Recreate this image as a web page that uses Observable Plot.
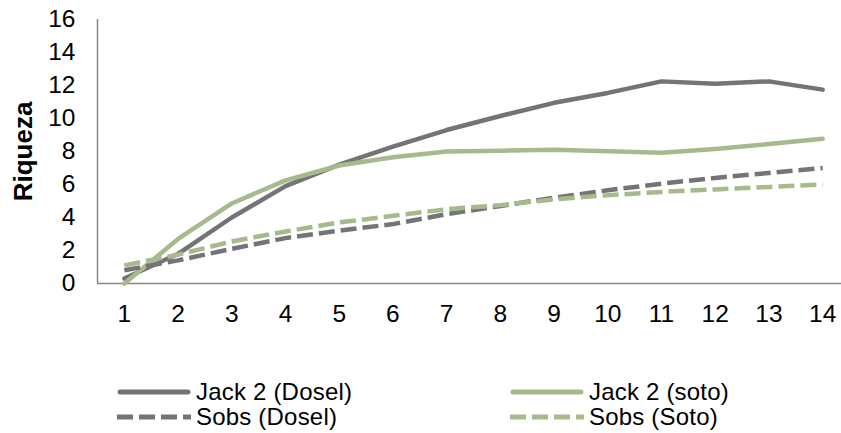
<!DOCTYPE html>
<html>
<head>
<meta charset="utf-8">
<script src="https://cdn.jsdelivr.net/npm/d3@7"></script>
<script src="https://cdn.jsdelivr.net/npm/@observablehq/plot@0.6"></script>
<style>
  html, body { margin: 0; padding: 0; background: #fff; }
  #wrap { position: relative; width: 841px; height: 433px; overflow: hidden; font-family: "Liberation Sans", Arial, sans-serif; }
  .leg { position: absolute; display: flex; align-items: center; font-size: 24px; letter-spacing: 0.2px; color: #000; white-space: nowrap; line-height: 1; }
  .leg svg { margin-right: 5px; }
</style>
</head>
<body>
<div id="wrap"></div>
<script>
// Sampling units
const muestras = [1, 2, 3, 4, 5, 6, 7, 8, 9, 10, 11, 12, 13, 14];

// Richness estimates per series
const jack2Dosel = [0.3, 1.8, 4.0, 5.9, 7.2, 8.3, 9.3, 10.15, 10.95, 11.55, 12.25, 12.1, 12.25, 11.75];
const jack2Soto  = [0, 2.7, 4.85, 6.25, 7.15, 7.65, 8.0, 8.05, 8.1, 8.02, 7.92, 8.15, 8.45, 8.77];
const sobsDosel  = [0.8, 1.4, 2.1, 2.75, 3.2, 3.6, 4.2, 4.7, 5.2, 5.65, 6.05, 6.4, 6.7, 7.0];
const sobsSoto   = [1.1, 1.75, 2.55, 3.15, 3.7, 4.1, 4.5, 4.75, 5.1, 5.35, 5.55, 5.7, 5.85, 6.0];

// Axis ticks
const yTicks = [0, 2, 4, 6, 8, 10, 12, 14, 16];
const xTicks = muestras;

const gris = "#737378";
const verde = "#a6ba8b";

const series = [
  {name: "Jack 2 (Dosel)", values: jack2Dosel, color: gris, dash: null},
  {name: "Jack 2 (soto)", values: jack2Soto, color: verde, dash: null},
  {name: "Sobs (Dosel)", values: sobsDosel, color: gris, dash: "16,6"},
  {name: "Sobs (Soto)", values: sobsSoto, color: verde, dash: "16,6"}
];

const rows = s => muestras.map((m, i) => ({x: m, y: s.values[i], serie: s.name}));

const chart = Plot.plot({
  width: 841,
  height: 340,
  marginLeft: 97,
  marginRight: 0,
  marginTop: 19,
  marginBottom: 57,
  style: {fontFamily: '"Liberation Sans", Arial, sans-serif', fontSize: "24px", color: "#000", background: "#fff"},
  x: {type: "linear", domain: [0.5, 14.5], range: [97, 849], ticks: xTicks, tickSize: 0, tickPadding: 21, tickFormat: d => String(d), label: null},
  y: {domain: [0, 16], ticks: yTicks, tickSize: 0, tickPadding: 22, tickFormat: d => String(d), label: null},
  marks: [
    Plot.ruleY([0], {x1: 0.5, x2: 14.5, stroke: "#868686", strokeWidth: 1.5}),
    Plot.ruleX([0.5], {y1: 0, y2: 16, stroke: "#868686", strokeWidth: 1.5}),
    ...series.map(s => Plot.line(rows(s), {
      x: "x", y: "y",
      stroke: s.color,
      strokeWidth: 4.5,
      strokeDasharray: s.dash,
      strokeLinecap: s.dash ? "butt" : "round",
      strokeLinejoin: "round"
    })),
    Plot.text(["Riqueza"], {frameAnchor: "left", textAnchor: "middle", dx: -74, rotate: -90, fontWeight: "bold", fontSize: 26, fill: "#000"})
  ]
});

// Tick labels at full size
d3.select(chart).selectAll('g[aria-label*="axis"] text')
  .style("font-size", "24.5px")
  .style("fill", "#000");

const wrap = document.getElementById("wrap");
wrap.appendChild(chart);

// Legend below the chart, two columns
const legendPos = [
  {left: 117, top: 392},
  {left: 510, top: 392},
  {left: 117, top: 417},
  {left: 510, top: 417}
];
series.forEach((s, i) => {
  const item = document.createElement("div");
  item.className = "leg";
  item.style.left = legendPos[i].left + "px";
  item.style.top = (legendPos[i].top - 12) + "px";
  item.style.height = "24px";
  const sw = s.dash
    ? `<svg width="74" height="10"><line x1="0" y1="5" x2="74" y2="5" stroke="${s.color}" stroke-width="5" stroke-dasharray="16,6"/></svg>`
    : `<svg width="74" height="10"><line x1="3" y1="5" x2="71" y2="5" stroke="${s.color}" stroke-width="5" stroke-linecap="round"/></svg>`;
  item.innerHTML = sw + `<span>${s.name}</span>`;
  wrap.appendChild(item);
});
</script>
</body>
</html>
